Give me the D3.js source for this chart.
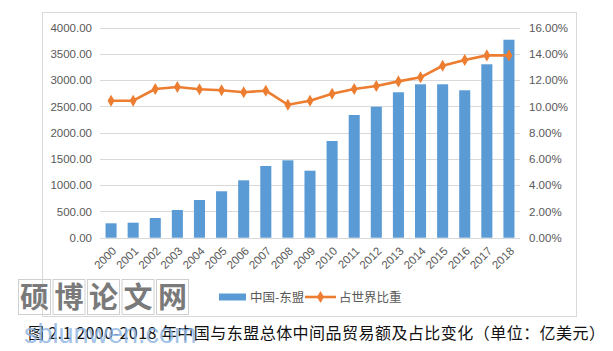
<!DOCTYPE html>
<html>
<head>
<meta charset="utf-8">
<script src="https://cdn.jsdelivr.net/npm/d3@7"></script>
<style>
	body { margin: 0; background: #fff; }
	svg { display: block; }
</style>
</head>
<body>
<svg id="chart" width="613" height="351"></svg>
<script>
// data
var years = ["2000", "2001", "2002", "2003", "2004", "2005", "2006", "2007", "2008", "2009",
	"2010", "2011", "2012", "2013", "2014", "2015", "2016", "2017", "2018"];
var tradeValue = [274, 286, 375, 528, 718, 884, 1093, 1366, 1474, 1276,
	1842, 2337, 2495, 2770, 2922, 2922, 2808, 3303, 3771];
var worldShare = [10.44, 10.44, 11.33, 11.48, 11.31, 11.23, 11.08, 11.20, 10.13, 10.44,
	10.97, 11.33, 11.56, 11.91, 12.22, 13.10, 13.54, 13.89, 13.89];
var leftTicks = [0, 500, 1000, 1500, 2000, 2500, 3000, 3500, 4000];
var rightTicks = [0, 2, 4, 6, 8, 10, 12, 14, 16];
var legendNames = ["中国-东盟", "占世界比重"];
var caption = "图 2.1   2000-2018 年中国与东盟总体中间品贸易额及占比变化（单位：亿美元）";

var svg = d3.select("#chart"),
	margin = { top: 27.7, left: 100, right: 93, bottom: 113.3 },
	width = +svg.attr("width"),
	height = +svg.attr("height");

var font = "'Liberation Sans', Arial, sans-serif";
var cjk = "'Noto Sans CJK SC', sans-serif";

// chart frame
svg.append("rect")
	.attr("x", 42.5).attr("y", 12.5)
	.attr("width", 534).attr("height", 304)
	.attr("fill", "#fff")
	.attr("stroke", "#d9d9d9");

var x = d3.scaleBand()
	.domain(years)
	.range([margin.left, width - margin.right])
	.paddingInner(0.5)
	.paddingOuter(0.25);

var yLeft = d3.scaleLinear()
	.domain([0, 4000])
	.range([height - margin.bottom, margin.top]);

var yRight = d3.scaleLinear()
	.domain([0, 16])
	.range([height - margin.bottom, margin.top]);

// gridlines
svg.append("g")
	.selectAll("line")
	.data(leftTicks)
	.enter().append("line")
	.attr("x1", margin.left).attr("x2", width - margin.right)
	.attr("y1", function(d) { return Math.round(yLeft(d)) + 0.5; })
	.attr("y2", function(d) { return Math.round(yLeft(d)) + 0.5; })
	.attr("stroke", "#d9d9d9")
	.attr("stroke-width", 1);

// left axis
var gLeft = svg.append("g")
	.attr("transform", "translate(" + (margin.left - 8) + ",0)")
	.call(d3.axisLeft(yLeft).tickValues(leftTicks).tickSize(0).tickFormat(d3.format(".2f")));
gLeft.select(".domain").remove();
gLeft.selectAll("text")
	.attr("x", 0)
	.attr("font-family", font).attr("font-size", 11.5).attr("fill", "#595959");

// right axis
var gRight = svg.append("g")
	.attr("transform", "translate(" + (width - margin.right + 9) + ",0)")
	.call(d3.axisRight(yRight).tickValues(rightTicks).tickSize(0).tickFormat(function(d) { return d.toFixed(2) + "%"; }));
gRight.select(".domain").remove();
gRight.selectAll("text")
	.attr("x", 0)
	.attr("font-family", font).attr("font-size", 11.5).attr("fill", "#595959");

// bars
svg.append("g")
	.selectAll("rect")
	.data(tradeValue)
	.enter().append("rect")
	.attr("x", function(d, i) { return x(years[i]); })
	.attr("width", x.bandwidth())
	.attr("y", function(d) { return yLeft(d); })
	.attr("height", function(d) { return yLeft(0) - yLeft(d); })
	.attr("fill", "#5b9bd5");

// x labels
var gX = svg.append("g")
	.attr("transform", "translate(0," + (height - margin.bottom) + ")")
	.call(d3.axisBottom(x).tickSize(0));
gX.select(".domain").remove();
gX.selectAll("text")
	.attr("font-family", font).attr("font-size", 11.5).attr("fill", "#595959")
	.attr("text-anchor", "end")
	.attr("dy", 0)
	.attr("transform", "translate(6,14) rotate(-45)")
	.attr("y", 0).attr("x", 0);

// share line
var cx = function(d, i) { return x(years[i]) + x.bandwidth() / 2; };
var line = d3.line()
	.x(cx)
	.y(function(d) { return yRight(d); });

svg.append("path")
	.datum(worldShare)
	.attr("d", line)
	.attr("fill", "none")
	.attr("stroke", "#ed7d31")
	.attr("stroke-width", 2.6)
	.attr("stroke-linejoin", "round");

var diamond = d3.symbol().type(d3.symbolDiamond).size(42);
svg.append("g")
	.selectAll("path")
	.data(worldShare)
	.enter().append("path")
	.attr("d", diamond)
	.attr("transform", function(d, i) { return "translate(" + cx(d, i) + "," + yRight(d) + ")"; })
	.attr("fill", "#ed7d31");

// legend
var lg = svg.append("g");
lg.append("rect")
	.attr("x", 219).attr("y", 293.5).attr("width", 27).attr("height", 7)
	.attr("fill", "#5b9bd5");
lg.append("text")
	.attr("x", 250).attr("y", 301.5)
	.attr("font-family", cjk).attr("font-size", 12.5).attr("fill", "#595959")
	.text(legendNames[0]);
lg.append("line")
	.attr("x1", 305).attr("x2", 336).attr("y1", 297).attr("y2", 297)
	.attr("stroke", "#ed7d31").attr("stroke-width", 2.6);
lg.append("path")
	.attr("d", diamond)
	.attr("transform", "translate(320.5,297)")
	.attr("fill", "#ed7d31");
lg.append("text")
	.attr("x", 339).attr("y", 301.5)
	.attr("font-family", cjk).attr("font-size", 12.5).attr("fill", "#595959")
	.text(legendNames[1]);

// watermark
var wm = svg.append("g");
"硕博论文网".split("").forEach(function(c, i) {
	wm.append("rect")
		.attr("x", 18.5 + i * 34.5).attr("y", 279.5).attr("width", 32).attr("height", 35)
		.attr("fill", "none").attr("stroke", "#cfcfcf");
	wm.append("text")
		.attr("x", 34.5 + i * 34.5).attr("y", 308)
		.attr("text-anchor", "middle")
		.attr("font-family", cjk).attr("font-weight", "bold").attr("font-size", 29).attr("fill", "#7a7a7a")
		.text(c);
});

// caption
svg.append("text")
	.attr("x", 28).attr("y", 339)
	.attr("font-family", cjk).attr("font-size", 16).attr("fill", "#111")
	.attr("textLength", 577)
	.text(caption);

svg.append("text")
	.attr("x", 24).attr("y", 343)
	.attr("font-family", font).attr("font-size", 27).attr("fill", "#8db4e2").attr("opacity", 0.8)
	.text("sblunwen.com");
</script>
</body>
</html>
